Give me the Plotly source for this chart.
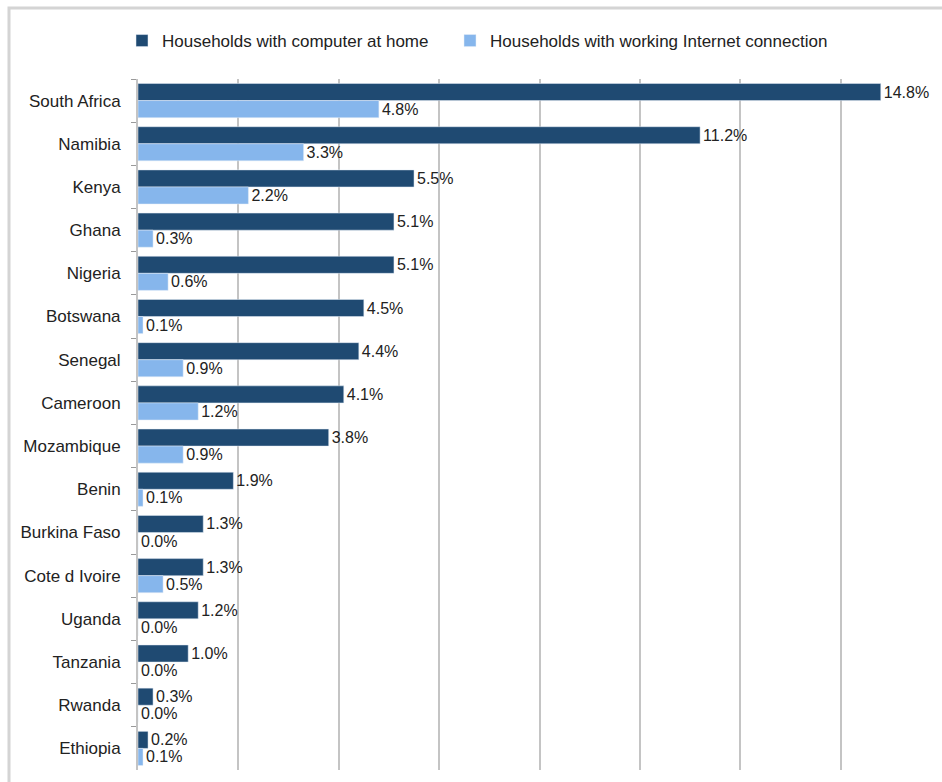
import plotly.graph_objects as go

countries = ["South Africa", "Namibia", "Kenya", "Ghana", "Nigeria", "Botswana",
             "Senegal", "Cameroon", "Mozambique", "Benin", "Burkina Faso",
             "Cote d Ivoire", "Uganda", "Tanzania", "Rwanda", "Ethiopia"]
computer = [14.8, 11.2, 5.5, 5.1, 5.1, 4.5, 4.4, 4.1, 3.8, 1.9, 1.3, 1.3, 1.2, 1.0, 0.3, 0.2]
internet = [4.8, 3.3, 2.2, 0.3, 0.6, 0.1, 0.9, 1.2, 0.9, 0.1, 0.0, 0.5, 0.0, 0.0, 0.0, 0.1]

FONT = "Liberation Sans, Arial, sans-serif"
W, H = 942, 782
ML, MR, MT, MB = 138, 1, 79, 12

fig = go.Figure()
fig.add_trace(go.Bar(
    y=countries, x=computer, orientation="h",
    name="Households with computer at home",
    marker=dict(color="#1f4a72"),
    text=[f"{v:.1f}%" for v in computer], textposition="outside",
    textfont=dict(family=FONT, size=16, color="#222222"),
    constraintext="none", cliponaxis=False, legend="legend",
))
fig.add_trace(go.Bar(
    y=countries, x=internet, orientation="h",
    name="Households with working Internet connection",
    marker=dict(color="#86b6ec"),
    text=[f"{v:.1f}%" for v in internet], textposition="outside",
    textfont=dict(family=FONT, size=16, color="#222222"),
    constraintext="none", cliponaxis=False, legend="legend2",
))

pw = W - ML - MR
ph = H - MT - MB


def px_x(p):
    return (p - ML) / pw


def px_y(p):
    return 1 - (p - MT) / ph


legend_style = dict(orientation="h", xanchor="left", y=px_y(41), yanchor="middle",
                    font=dict(family=FONT, size=17, color="#222222"),
                    bgcolor="rgba(0,0,0,0)")

fig.update_layout(
    width=W, height=H,
    margin=dict(l=ML, r=MR, t=MT, b=MB),
    paper_bgcolor="white", plot_bgcolor="white",
    barmode="group", bargap=0.21, bargroupgap=0,
    font=dict(family=FONT, size=17, color="#222222"),
    showlegend=True,
    legend=dict(x=px_x(122), **legend_style),
    legend2=dict(x=px_x(450), **legend_style),
    xaxis=dict(range=[0, 16], dtick=2, showgrid=True, gridcolor="#c4c4c4",
               gridwidth=2, showticklabels=False, zeroline=False,
               showline=False, fixedrange=True),
    yaxis=dict(categoryorder="array", categoryarray=countries,
               autorange="reversed", showline=True, linecolor="#c4c4c4",
               linewidth=2, ticks="outside", tickson="boundaries",
               ticklen=5, tickcolor="#9a9a9a", ticklabelstandoff=12,
               tickfont=dict(family=FONT, size=17, color="#222222")),
    shapes=[dict(type="rect", xref="paper", yref="paper",
                 x0=px_x(9), x1=px_x(960), y0=px_y(8), y1=px_y(800),
                 line=dict(color="#d4d4d4", width=3), layer="below")],
)

fig.write_html("out.html")
